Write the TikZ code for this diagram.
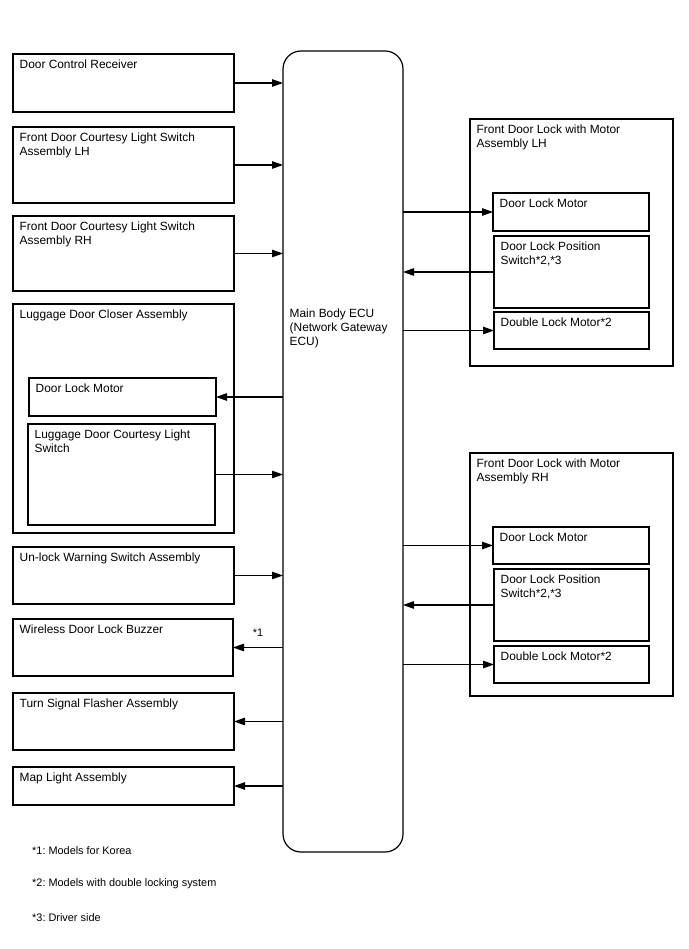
\documentclass[tikz,border=0pt]{standalone}
\usepackage{fontspec}
\setmainfont{Liberation Sans}
\frenchspacing
\usepackage{tikz}
\usetikzlibrary{positioning,calc,arrows.meta}

\begin{document}
\begin{tikzpicture}[x=1pt, y=-1pt, >={Triangle[length=11pt,width=7.5pt]}, box/.style = {draw, rectangle, line width=1.2pt, anchor=north west, inner sep=0pt, outer sep=0pt}, txt/.style = {anchor=north west, inner sep=0pt, align=left, xshift=6.5, yshift=-6, font=\fontsize{11.9}{13.9}\selectfont}, wire/.style={->, line width=1.2pt}, note/.style = {anchor=west, inner sep=0pt, font=\fontsize{10.9}{13}\selectfont}]

\useasboundingbox (0,0) rectangle (688,949);

% main ECU
\node[box, rounded corners=18pt, minimum width=120, minimum height=801, label={[txt, yshift=-252]north west:{Main Body ECU\\(Network Gateway\\ECU)}}] (ecu) at (283,51) {};

% left side
\node[box, minimum width=221, minimum height=58, label={[txt]north west:{Door Control Receiver}}] (dcr) at (13,54) {};
\node[box, minimum width=221, minimum height=76, label={[txt]north west:{Front Door Courtesy Light Switch\\Assembly LH}}] (fdlh) at (13,127) {};
\node[box, minimum width=221, minimum height=75, label={[txt]north west:{Front Door Courtesy Light Switch\\Assembly RH}}] (fdrh) at (13,216) {};
\node[box, minimum width=221, minimum height=229, label={[txt]north west:{Luggage Door Closer Assembly}}] (ldca) at (13,304) {};
\node[box, minimum width=187, minimum height=38, label={[txt]north west:{Door Lock Motor}}] (ldm) at (29,378) {};
\node[box, minimum width=187, minimum height=101, label={[txt]north west:{Luggage Door Courtesy Light\\Switch}}] (ldsw) at (28,424) {};
\node[box, minimum width=221, minimum height=57, label={[txt]north west:{Un-lock Warning Switch Assembly}}] (uwsw) at (13,547) {};
\node[box, minimum width=220, minimum height=57, label={[txt]north west:{Wireless Door Lock Buzzer}}] (wdlb) at (13,619) {};
\node[box, minimum width=221, minimum height=57, label={[txt]north west:{Turn Signal Flasher Assembly}}] (tsfa) at (13,693) {};
\node[box, minimum width=221, minimum height=38, label={[txt]north west:{Map Light Assembly}}] (mla) at (13,767) {};

% right side
\node[box, minimum width=203, minimum height=247, label={[txt]north west:{Front Door Lock with Motor\\Assembly LH}}] (lhfd) at (470,119) {};
\node[box, minimum width=156, minimum height=38, label={[txt]north west:{Door Lock Motor}}] (lhdlm) at (493,193) {};
\node[box, minimum width=155, minimum height=72, label={[txt]north west:{Door Lock Position\\Switch*2,*3}}] (lhpos) at (494,236) {};
\node[box, minimum width=155, minimum height=37, label={[txt]north west:{Double Lock Motor*2}}] (lhdbl) at (494,312) {};
\node[box, minimum width=203, minimum height=243, label={[txt]north west:{Front Door Lock with Motor\\Assembly RH}}] (rhfd) at (470,453) {};
\node[box, minimum width=156, minimum height=37, label={[txt]north west:{Door Lock Motor}}] (rhdlm) at (493,527) {};
\node[box, minimum width=155, minimum height=72, label={[txt]north west:{Door Lock Position\\Switch*2,*3}}] (rhpos) at (494,569) {};
\node[box, minimum width=155, minimum height=37, label={[txt]north west:{Double Lock Motor*2}}] (rhdbl) at (494,646) {};

% connections
\draw[wire] (dcr.east) -- (dcr.east -| ecu.west);
\draw[wire] (fdlh.east) -- (fdlh.east -| ecu.west);
\draw[wire] (fdrh.east) -- (fdrh.east -| ecu.west);
\draw[wire] (ecu.west |- ldm.east) -- (ldm.east);
\draw[wire] (ldsw.east) -- (ldsw.east -| ecu.west);
\draw[wire] (uwsw.east) -- (uwsw.east -| ecu.west);
\draw[wire] (ecu.west |- wdlb.east) -- node[anchor=south, inner sep=0pt, yshift=10, font=\fontsize{10.9}{13}\selectfont] (n1) {*1} (wdlb.east);
\draw[wire] (ecu.west |- tsfa.east) -- (tsfa.east);
\draw[wire] (ecu.west |- mla.east) -- (mla.east);
\draw[wire] (ecu.east |- lhdlm.west) -- (lhdlm.west);
\draw[wire] (lhpos.west) -- (lhpos.west -| ecu.east);
\draw[wire] (ecu.east |- lhdbl.west) -- (lhdbl.west);
\draw[wire] (ecu.east |- rhdlm.west) -- (rhdlm.west);
\draw[wire] (rhpos.west) -- (rhpos.west -| ecu.east);
\draw[wire] (ecu.east |- rhdbl.west) -- (rhdbl.west);

% footnotes
\node[note] (fn1) at (32,851) {*1: Models for Korea};
\node[note] (fn2) at (32,884) {*2: Models with double locking system};
\node[note] (fn3) at (32,918) {*3: Driver side};
\end{tikzpicture}
\end{document}
